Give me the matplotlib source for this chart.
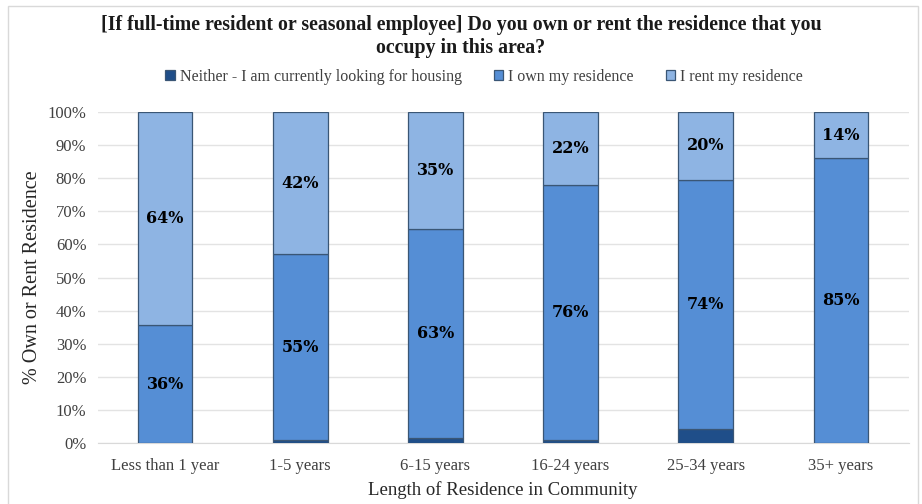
import matplotlib
matplotlib.use("Agg")
import matplotlib.pyplot as plt
from matplotlib.patches import Rectangle
import numpy as np

categories = ["Less than 1 year", "1-5 years", "6-15 years", "16-24 years", "25-34 years", "35+ years"]
neither = [0.0, 1.0, 1.5, 1.0, 4.2, 0.0]
own = [35.5, 56.0, 63.2, 77.0, 75.3, 86.0]
rent = [64.5, 43.0, 35.3, 22.0, 20.5, 14.0]
own_labels = ["36%", "55%", "63%", "76%", "74%", "85%"]
rent_labels = ["64%", "42%", "35%", "22%", "20%", "14%"]
series_names = ["Neither - I am currently looking for housing", "I own my residence", "I rent my residence"]
colors = ["#1F4E89", "#558ED5", "#8EB4E3"]
yticks = [0, 10, 20, 30, 40, 50, 60, 70, 80, 90, 100]

serif = ["Liberation Serif", "DejaVu Serif"]
plt.rcParams["font.family"] = serif

fig = plt.figure(figsize=(9.22, 5.04), dpi=100)
W, H = 922, 504
ax = fig.add_axes([97.5 / W, 1 - 443 / H, 811 / W, 331 / H])

x = np.arange(len(categories))
bw = 0.405
b0 = np.zeros(len(categories))
data = [neither, own, rent]
for vals, col, name in zip(data, colors, series_names):
    ax.bar(x, vals, bw, bottom=b0, color=col, edgecolor="#3a5675", linewidth=0.9, label=name, zorder=3)
    b0 = b0 + np.array(vals)

nb = np.array(neither)
ob = np.array(own)
rb = np.array(rent)
for i in range(len(categories)):
    ax.text(x[i], nb[i] + ob[i] / 2, own_labels[i], ha="center", va="center",
            fontsize=11.5, fontweight="bold", family="DejaVu Serif", color="black", zorder=4)
    ax.text(x[i], nb[i] + ob[i] + rb[i] / 2, rent_labels[i], ha="center", va="center",
            fontsize=11.5, fontweight="bold", family="DejaVu Serif", color="black", zorder=4)

ax.set_xlim(-0.5, len(categories) - 0.5)
ax.set_ylim(0, 100)
ax.set_yticks(yticks)
ax.set_yticklabels([f"{t}%" for t in yticks], fontsize=12, color="#404040")
ax.set_xticks(x)
ax.set_xticklabels(categories, fontsize=12, color="#404040")
ax.tick_params(axis="y", length=0, pad=8)
ax.tick_params(axis="x", length=0, pad=11)
ax.yaxis.grid(True, color="#e3e3e3", linewidth=1.0, zorder=0)
ax.set_axisbelow(True)
for s in ["top", "right", "left"]:
    ax.spines[s].set_visible(False)
ax.spines["bottom"].set_color("#d9d9d9")
ax.set_xlabel("Length of Residence in Community", fontsize=13.5, color="#262626", labelpad=5)
ax.set_ylabel("% Own or Rent Residence", fontsize=14.5, color="#262626", labelpad=4)

fig.text(0.5, 1 - 25 / H, "[If full-time resident or seasonal employee] Do you own or rent the residence that you",
         ha="center", va="center", fontsize=14.3, fontweight="bold", color="#1a1a1a")
fig.text(0.5, 1 - 48 / H, "occupy in this area?",
         ha="center", va="center", fontsize=14.3, fontweight="bold", color="#1a1a1a")

handles, labels = ax.get_legend_handles_labels()
fig.legend(handles, labels, loc="center", bbox_to_anchor=(484 / W, 1 - 77 / H), ncol=3, frameon=False,
           fontsize=11.5, handlelength=0.6, handleheight=0.6, columnspacing=2.0, handletextpad=0.3,
           labelcolor="#404040")

fig.patches.append(Rectangle((8 / W, -0.05), (918 - 8) / W, 1 - 6 / H + 0.05, transform=fig.transFigure,
                             fill=False, edgecolor="#d9d9d9", linewidth=1.0))

fig.savefig("out.png", dpi=100)
